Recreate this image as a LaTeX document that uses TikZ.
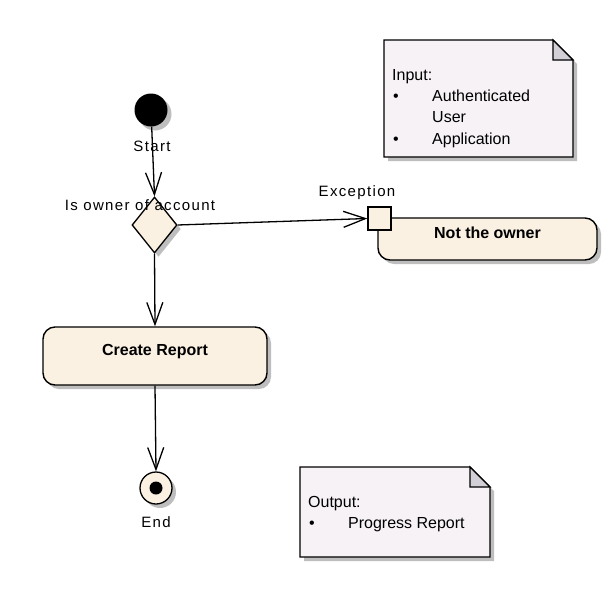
\documentclass[tikz,border=0pt]{standalone}
\usepackage{fontspec}
\setmainfont{Liberation Sans}
\newfontfamily\tagfont[LetterSpace=9]{Liberation Sans}
\usetikzlibrary{positioning, shapes.geometric, shadows, arrows.meta}
\definecolor{xcream}{HTML}{FBF1E3}
\definecolor{xnote}{HTML}{F6F2F6}
\definecolor{xfold}{HTML}{D2D0D6}
\definecolor{xshadow}{HTML}{BEBEBE}
\newcommand{\diagfont}{\fontsize{16}{19}\selectfont}
\tikzset{
	flow/.style={line width=1.3pt, -{Straight Barb[length=22pt, width=16pt, line width=1.3pt]}},
	castshadow/.style={drop shadow={shadow xshift=4pt, shadow yshift=-4pt, fill=xshadow, opacity=1}},
	action/.style={draw, line width=1.4pt, rounded corners=12pt, fill=xcream, castshadow, font=\diagfont\bfseries, text height=12pt, text depth=14pt},
	tag/.style={anchor=base, inner sep=0pt, font=\fontsize{15}{18}\tagfont},
	notebox/.style={draw, line width=1.4pt, fill=xnote, castshadow},
	foldbox/.style={draw, line width=1.2pt, fill=xfold},
	notetext/.style={anchor=base west, inner sep=0pt, font=\diagfont},
}

\begin{document}
\begin{tikzpicture}[x=1pt, y=-1pt]
	\useasboundingbox (0,0) rectangle (616,592);

	% Main flow
	\node[circle, fill=black, minimum size=33pt, inner sep=0pt, castshadow] (start) at (151,110) {};
	\node[tag] (startlbl) at (152,151) {Start};

	\node[diamond, draw, line width=1.3pt, fill=xcream, minimum width=45pt, minimum height=56pt, inner sep=0pt, castshadow] (owner) at (154.5,225) {};
	\node[tag] (ownerlbl) at (140,210) {Is owner of account};

	\node[action, minimum width=224pt, minimum height=58pt] (create) at (155,356) {Create Report};

	\node[circle, draw, line width=1.3pt, fill=xcream, minimum size=32pt, inner sep=0pt, castshadow] (final) at (156,488) {};
	\fill (final) circle (6.5pt);
	\node[tag] (finallbl) at (156,527) {End};

	% Exception handler
	\node[action, minimum width=219pt, minimum height=42pt] (notowner) at (487.5,239) {Not the owner};
	\node[draw, line width=1.4pt, fill=xcream, minimum size=23pt, inner sep=0pt] (excpin) at (379.5,218.5) {};
	\node[tag] (exclbl) at (357,196) {Exception};

	\draw[flow] (start) -- (owner.north);
	\draw[flow] (owner.east) -- (excpin.west);
	\draw[flow] (owner.south) -- (create.north);
	\draw[flow] (create.south) -- (final.north);

	% Input note
	\draw[notebox] (384,40) -- (553,40) -- (573,60) -- (573,157) -- (384,157) -- cycle;
	\draw[foldbox] (553,40) -- (573,60) -- (553,60) -- cycle;
	\node[notetext] (inhead) at (392,80) {Input:};
	\node[notetext] (inbul1) at (393,101.3) {\textbullet};
	\node[notetext] (initem1) at (432,101.3) {Authenticated};
	\node[notetext] (initem1b) at (432,122.6) {User};
	\node[notetext] (inbul2) at (393,144) {\textbullet};
	\node[notetext] (initem2) at (432,144) {Application};

	% Output note
	\draw[notebox] (300,467) -- (470,467) -- (490,487) -- (490,557) -- (300,557) -- cycle;
	\draw[foldbox] (470,467) -- (490,487) -- (470,487) -- cycle;
	\node[notetext] (outhead) at (308,507) {Output:};
	\node[notetext] (outbul) at (309,528) {\textbullet};
	\node[notetext] (outitem) at (348,528) {Progress Report};
\end{tikzpicture}
\end{document}
